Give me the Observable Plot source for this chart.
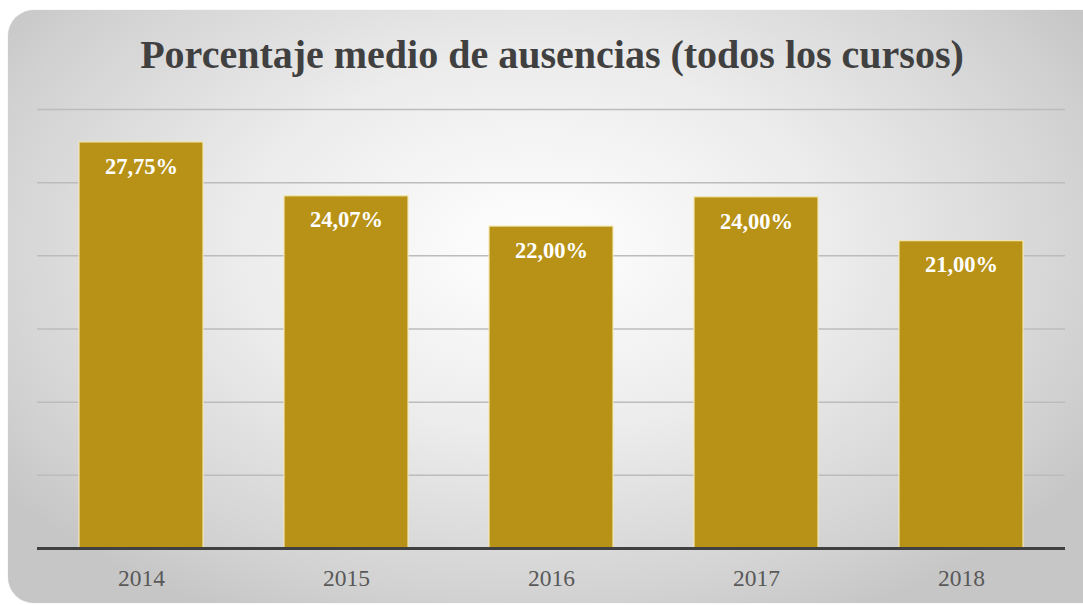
<!DOCTYPE html>
<html>
<head>
<meta charset="utf-8">
<script src="https://cdn.jsdelivr.net/npm/d3@7"></script>
<script src="https://cdn.jsdelivr.net/npm/@observablehq/plot@0.6"></script>
<style>
  html, body { margin: 0; padding: 0; background: #ffffff; width: 1083px; height: 605px; overflow: hidden; }
  #card {
    position: absolute; left: 8px; top: 10px; width: 1100px; height: 593px;
    border-radius: 26px;
    background: radial-gradient(ellipse 60% 70% at 48% 40%, #ffffff 0%, #ececec 45%, #d2d2d2 85%, #c6c6c6 100%);
    box-shadow: 0 0 1px rgba(0,0,0,0.25);
  }
  #title {
    position: absolute; left: 0; top: 30px; width: 1104px; text-align: center;
    font-family: "Liberation Serif", "DejaVu Serif", serif; font-weight: bold;
    font-size: 40px; color: #404040; line-height: 50px;
  }
  #chart { position: absolute; left: 0; top: 90px; }
</style>
</head>
<body>
<div id="card"></div>
<div id="title">Porcentaje medio de ausencias (todos los cursos)</div>
<div id="chart"></div>
<script>
const years = ["2014", "2015", "2016", "2017", "2018"];
const values = [27.75, 24.07, 22.00, 24.00, 21.00];
const gridTicks = [5, 10, 15, 20, 25, 30];

const data = years.map((y, i) => ({ year: y, value: values[i] }));
const fmt = v => d3.format(".2f")(v).replace(".", ",") + "%";

const plot = Plot.plot({
  width: 1083,
  height: 515,
  marginLeft: 37,
  marginRight: 18,
  marginTop: 19,
  marginBottom: 57,
  style: { background: "transparent", fontFamily: "'Liberation Serif', 'DejaVu Serif', serif" },
  x: { domain: years, paddingInner: 0.393, paddingOuter: 0.2, label: null, tickSize: 0, tickPadding: 22 },
  y: { domain: [0, 30], axis: null },
  marks: [
    Plot.ruleY(gridTicks, { stroke: "#bcbcbc", strokeWidth: 1.5 }),
    Plot.barY(data, { x: "year", y: "value", fill: "#b79216", stroke: "#f3e6b0", strokeWidth: 1.2 }),
    Plot.ruleY([0], { stroke: "#404040", strokeWidth: 3 }),
    Plot.text(data, { x: "year", y: "value", text: d => fmt(d.value), dy: 24, fill: "#ffffff",
      fontWeight: "bold", fontSize: 22.5, lineAnchor: "middle" }),
    Plot.axisX({ tickSize: 0, tickPadding: 21, fontSize: 23.5, color: "#595959", label: null })
  ]
});
document.getElementById("chart").appendChild(plot);
</script>
</body>
</html>
